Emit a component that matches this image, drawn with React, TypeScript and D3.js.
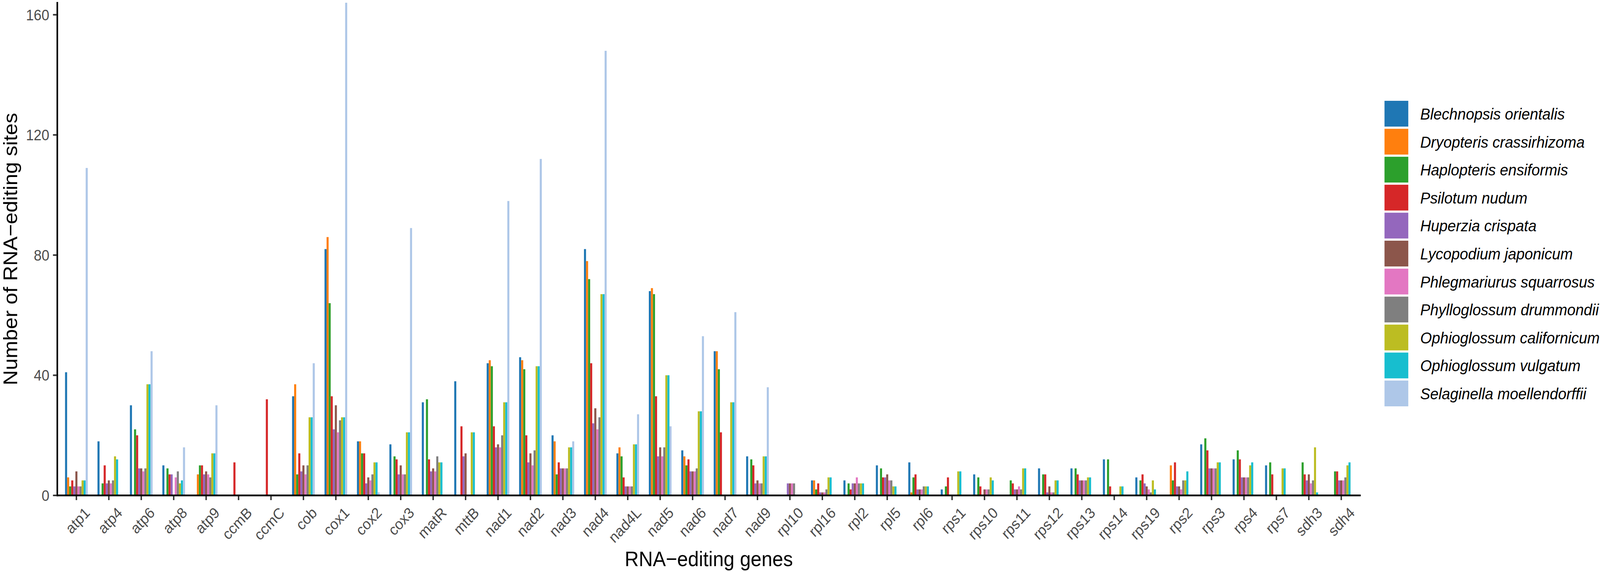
import React from "react";
import * as d3 from "d3";

const genes = ["atp1","atp4","atp6","atp8","atp9","ccmB","ccmC","cob","cox1","cox2","cox3","matR","mttB","nad1","nad2","nad3","nad4","nad4L","nad5","nad6","nad7","nad9","rpl10","rpl16","rpl2","rpl5","rpl6","rps1","rps10","rps11","rps12","rps13","rps14","rps19","rps2","rps3","rps4","rps7","sdh3","sdh4"];

const species = ["Blechnopsis orientalis","Dryopteris crassirhizoma","Haplopteris ensiformis","Psilotum nudum","Huperzia crispata","Lycopodium japonicum","Phlegmariurus squarrosus","Phylloglossum drummondii","Ophioglossum californicum","Ophioglossum vulgatum","Selaginella moellendorffii"];

const colors = ["#1f77b4","#ff7f0e","#2ca02c","#d62728","#9467bd","#8c564b","#e377c2","#7f7f7f","#bcbd22","#17becf","#aec7e8"];

const blechnopsis = [41,18,30,10,0,0,0,33,82,18,17,31,38,44,46,20,82,14,68,15,48,13,0,5,5,10,11,2,7,0,9,9,12,6,0,17,12,10,0,0];
const dryopteris = [6,0,0,0,7,0,0,37,86,18,0,0,0,45,45,18,78,16,69,13,48,0,0,5,0,0,1,0,0,0,0,0,0,0,10,0,0,0,0,0];
const haplopteris = [3,4,22,9,10,0,0,7,64,14,13,32,0,43,42,7,72,13,67,10,42,12,0,2,4,9,6,3,6,5,7,9,12,5,5,19,15,11,11,8];
const psilotum = [5,10,20,7,10,11,32,14,33,14,12,12,23,23,20,11,44,6,33,12,21,10,0,4,2,6,7,6,3,4,7,7,3,7,11,15,12,7,7,8];
const huperzia = [3,4,9,7,7,0,0,8,22,4,7,8,13,16,11,9,24,3,13,8,0,4,4,1,4,6,2,0,0,2,1,5,0,4,3,9,6,0,5,5];
const lycopodium = [8,5,9,0,8,0,0,10,30,6,10,9,14,17,14,9,29,3,16,8,0,5,4,1,4,7,2,0,2,2,3,5,0,3,3,9,6,0,7,5];
const phlegmariurus = [3,4,8,6,7,0,0,7,21,5,7,8,0,16,10,9,22,3,13,8,0,4,4,1,6,5,2,0,2,3,1,5,0,2,2,9,6,0,4,5];
const phylloglossum = [3,5,9,8,6,0,0,10,25,7,7,13,0,20,15,9,26,3,16,9,0,4,4,2,4,5,3,0,2,2,1,5,0,1,5,9,6,0,5,6];
const ophioCalif = [5,13,37,4,14,0,0,26,26,11,21,11,21,31,43,16,67,17,40,28,31,13,0,6,4,3,3,8,6,9,5,6,3,5,5,11,10,9,16,10];
const ophioVulg = [5,12,37,5,14,0,0,26,26,11,21,11,21,31,43,16,67,17,40,28,31,13,0,6,4,3,3,8,5,9,5,6,3,2,8,11,11,9,1,11];
const selaginella = [109,0,48,16,30,0,0,44,164,1,89,0,0,98,112,18,148,27,23,53,61,36,0,0,0,0,0,0,0,0,0,0,0,0,0,0,0,0,0,0];

const seriesValues = [blechnopsis, dryopteris, haplopteris, psilotum, huperzia, lycopodium, phlegmariurus, phylloglossum, ophioCalif, ophioVulg, selaginella];

const yTicks = [0, 40, 80, 120, 160];
const yMax = 164;

const W = 4440, H = 1464;
const left = 158, right = 3776, top = 7, bottom = 1268;
const FONT = "'Liberation Sans', Arial, Helvetica, sans-serif";

export default function App() {
  const x = d3.scalePoint<string>().domain(genes).range([left, right]).padding(0.6);
  const step = x.step();
  const inner = d3.scaleBand<string>().domain(species).range([-0.35 * step, 0.35 * step]).padding(0);
  const y = d3.scaleLinear().domain([0, yMax]).range([bottom, top]);

  return (
    <svg
      viewBox={`0 0 ${W} ${H}`}
      preserveAspectRatio="none"
      style={{ position: "fixed", left: 0, top: 0, width: "100%", height: "100%", background: "#fff", display: "block" }}
      fontFamily={FONT}
    >
      <rect x={0} y={0} width={W} height={H} fill="#fff" />
      {seriesValues.map((vals, si) => (
        <g key={species[si]} fill={colors[si]}>
          {vals.map((v, gi) =>
            v > 0 ? (
              <rect
                key={genes[gi]}
                x={(x(genes[gi]) as number) + (inner(species[si]) as number)}
                y={y(v)}
                width={inner.bandwidth()}
                height={y(0) - y(v)}
              />
            ) : null
          )}
        </g>
      ))}
      <line x1={left + 1} x2={left + 1} y1={top - 2} y2={bottom + 2.2} stroke="#000" strokeWidth={4.4} />
      <line x1={left - 1} x2={right} y1={bottom} y2={bottom} stroke="#000" strokeWidth={4.4} />
      {yTicks.map((t) => (
        <g key={t}>
          <line x1={left - 11} x2={left - 1} y1={y(t)} y2={y(t)} stroke="#333" strokeWidth={4} />
          <text x={137} y={y(t)} dy="0.36em" textAnchor="end" fontSize={39} fill="#4D4D4D">{t}</text>
        </g>
      ))}
      {genes.map((g) => (
        <g key={g}>
          <line x1={x(g)} x2={x(g)} y1={bottom + 2} y2={bottom + 12} stroke="#333" strokeWidth={4} />
          <text
            transform={`translate(${(x(g) as number) + 20},${1295}) rotate(-45)`}
            dy="0.72em"
            textAnchor="end"
            fontSize={39}
            fill="#4D4D4D"
          >
            {g}
          </text>
        </g>
      ))}
      <text x={(left + right) / 2} y={1449} textAnchor="middle" fontSize={54} fill="#000">RNA−editing genes</text>
      <text transform={`translate(48,${(top + bottom) / 2}) rotate(-90)`} textAnchor="middle" fontSize={54} fill="#000">Number of RNA−editing sites</text>
      {species.map((s, i) => (
        <g key={s}>
          <rect x={3842} y={258 + i * 71.6} width={66} height={66} fill={colors[i]} />
          <text x={3941} y={258 + i * 71.6 + 33} dy="0.36em" fontSize={41.5} fontStyle="italic" fill="#000">{s}</text>
        </g>
      ))}
    </svg>
  );
}
